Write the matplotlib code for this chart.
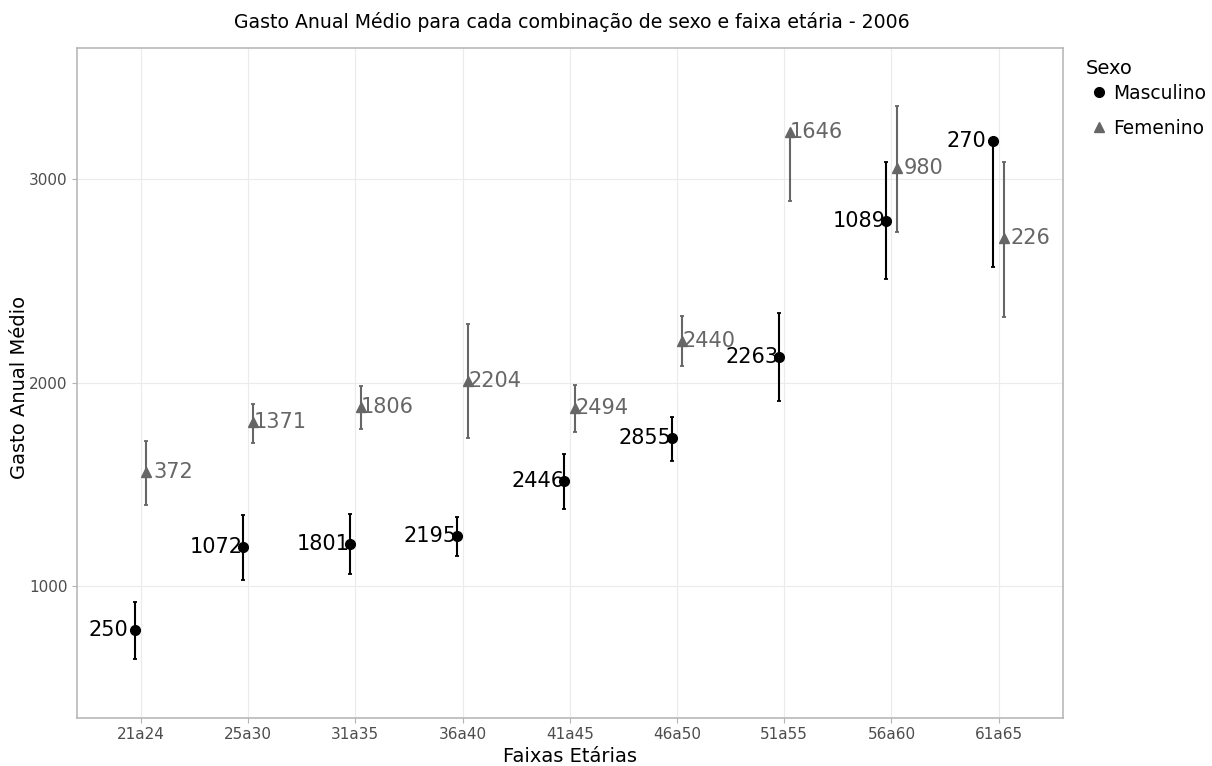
import matplotlib
matplotlib.use("Agg")
import matplotlib.pyplot as plt
import numpy as np

plt.rcParams['font.family'] = ['DejaVu Sans']

faixas = ['21a24', '25a30', '31a35', '36a40', '41a45', '46a50', '51a55', '56a60', '61a65']

# gasto medio e limites do intervalo, por sexo
masc_media = [784, 1190, 1206, 1244, 1516, 1728, 2125, 2796, 3188]
masc_inf = [641, 1030, 1060, 1146, 1380, 1616, 1908, 2510, 2570]
masc_sup = [923, 1349, 1353, 1341, 1649, 1833, 2341, 3085, 3188]
masc_n = [250, 1072, 1801, 2195, 2446, 2855, 2263, 1089, 270]

fem_media = [1559, 1805, 1882, 2008, 1877, 2206, 3234, 3054, 2710]
fem_inf = [1398, 1703, 1772, 1729, 1756, 2083, 2895, 2742, 2324]
fem_sup = [1712, 1897, 1985, 2288, 1990, 2328, 3234, 3361, 3084]
fem_n = [372, 1371, 1806, 2204, 2494, 2440, 1646, 980, 226]

cor_m = 'black'
cor_f = '#666666'

fig = plt.figure(figsize=(12.12, 7.66), dpi=100)
ax = fig.add_axes([0.0633, 0.0631, 0.8135, 0.8746])

x = np.arange(len(faixas))
xm = x - 0.05
xf = x + 0.05

def barras(xs, media, inf, sup, cor, marker, nome):
    media = np.array(media)
    err = [media - np.array(inf), np.array(sup) - media]
    ax.errorbar(xs, media, yerr=err, fmt='none', ecolor=cor, elinewidth=1.5,
                capsize=1.6, capthick=1.3, zorder=2)
    ax.plot(xs, media, linestyle='none', marker=marker, color=cor,
            markersize=7, zorder=3, label=nome)

barras(xm, masc_media, masc_inf, masc_sup, cor_m, 'o', 'Masculino')
barras(xf, fem_media, fem_inf, fem_sup, cor_f, '^', 'Femenino')

for xi, yi, n in zip(xm, masc_media, masc_n):
    ax.annotate(str(n), (xi, yi), xytext=(-19.3, 0), textcoords='offset points',
                ha='center', va='center', fontsize=15, color=cor_m, zorder=4)
for xi, yi, n in zip(xf, fem_media, fem_n):
    ax.annotate(str(n), (xi, yi), xytext=(19.3, 0), textcoords='offset points',
                ha='center', va='center', fontsize=15, color=cor_f, zorder=4)

ax.set_xlim(-0.598, 8.597)
ax.set_ylim(352, 3647)
ax.set_xticks(x)
ax.set_xticklabels(faixas)
ax.set_yticks([1000, 2000, 3000])
ax.tick_params(axis='both', labelsize=11, labelcolor='#4d4d4d', color='#b3b3b3',
               length=3.5, width=0.8, pad=3)
ax.grid(True, color='#ebebeb', linewidth=0.8)
ax.set_axisbelow(True)
for s in ax.spines.values():
    s.set_color('#b3b3b3')
    s.set_linewidth(1.1)

fig.text(572 / 1212, 1 - 22 / 766, 'Gasto Anual Médio para cada combinação de sexo e faixa etária - 2006',
         ha='center', va='center', fontsize=13.6, color='black')
fig.text(570 / 1212, 1 - 756 / 766, 'Faixas Etárias', ha='center', va='center', fontsize=14)
fig.text(20 / 1212, 1 - 387 / 766, 'Gasto Anual Médio', ha='center', va='center',
         rotation=90, fontsize=14)

# legenda: titulo separado para controlar o espaco ate os itens
fig.text(1086 / 1212, 1 - 68 / 766, 'Sexo', ha='left', va='center', fontsize=14)
leg = fig.legend(loc='upper left', bbox_to_anchor=(1086 / 1212, 1 - 84 / 766),
                 frameon=False, fontsize=13.4,
                 handletextpad=0.05, labelspacing=0.85, handlelength=1.4,
                 borderaxespad=0, borderpad=0)

fig.savefig('out.png', dpi=100)
